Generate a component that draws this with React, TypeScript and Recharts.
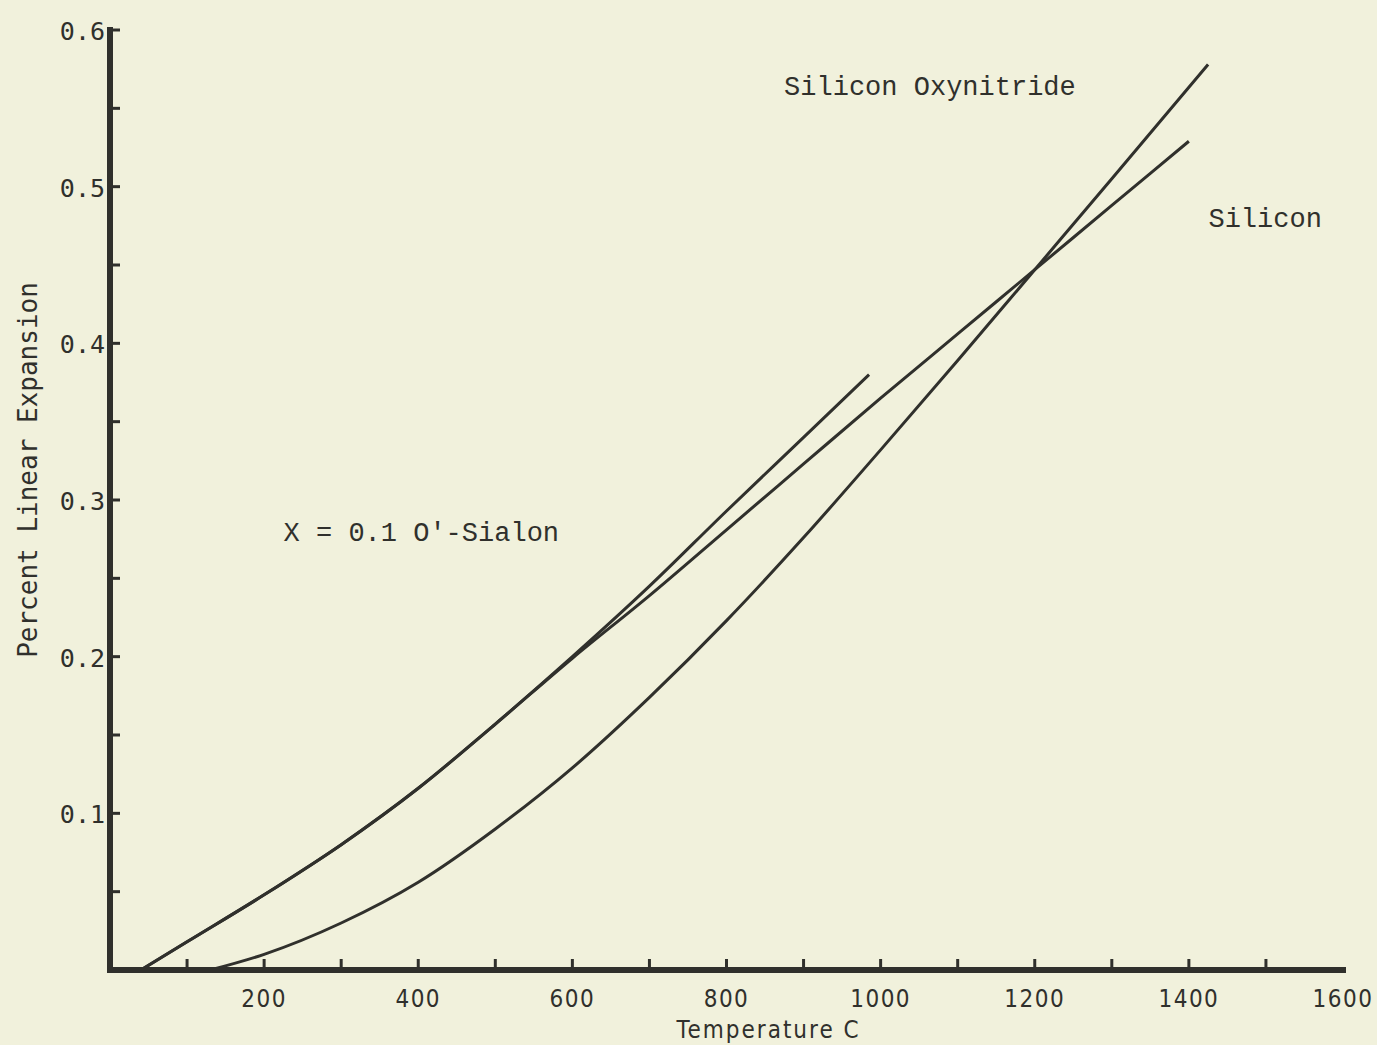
import React from 'react';
import { LineChart, Line, XAxis, YAxis, ReferenceDot } from 'recharts';

// Temperature (C) and percent linear expansion
const oxynitrideTemps = [130, 200, 300, 400, 500, 600, 700, 800, 900, 1000, 1100, 1200, 1300, 1425];
const oxynitrideValues = [0, 0.010, 0.030, 0.056, 0.090, 0.129, 0.174, 0.223, 0.276, 0.332, 0.389, 0.447, 0.505, 0.578];

const siliconTemps = [40, 100, 200, 300, 400, 500, 600, 700, 800, 900, 1000, 1100, 1200, 1300, 1400];
const siliconValues = [0, 0.018, 0.048, 0.080, 0.116, 0.157, 0.199, 0.239, 0.281, 0.323, 0.365, 0.406, 0.447, 0.488, 0.529];

const sialonTemps = [40, 100, 200, 300, 400, 500, 600, 700, 800, 900, 985];
const sialonValues = [0, 0.018, 0.048, 0.080, 0.116, 0.157, 0.200, 0.245, 0.293, 0.340, 0.380];

const xTicks = [0, 100, 200, 300, 400, 500, 600, 700, 800, 900, 1000, 1100, 1200, 1300, 1400, 1500, 1600];
const xTickLabels = ['', '', '200', '', '400', '', '600', '', '800', '', '1000', '', '1200', '', '1400', '', '1600'];
const yTicks = [0, 0.05, 0.1, 0.15, 0.2, 0.25, 0.3, 0.35, 0.4, 0.45, 0.5, 0.55, 0.6];
const yTickLabels = ['', '', '0.1', '', '0.2', '', '0.3', '', '0.4', '', '0.5', '', '0.6'];

const seriesNames = ['Silicon Oxynitride', 'Silicon', "X = 0.1 O'-Sialon"];
// label anchor positions in data coordinates [temperature, expansion]
const labelTemps = [1064, 1499, 404];
const labelValues = [0.563, 0.479, 0.278];

const toPoints = (ts: number[], vs: number[]) => ts.map((t, i) => ({ t, v: vs[i] }));
const oxynitrideData = toPoints(oxynitrideTemps, oxynitrideValues);
const siliconData = toPoints(siliconTemps, siliconValues);
const sialonData = toPoints(sialonTemps, sialonValues);

const INK = '#30302c';
const BG = '#f1f1dc';

const XTick = (props: any) => {
  const { x, y, payload } = props;
  const i = xTicks.indexOf(payload.value);
  const label = xTickLabels[i];
  const showLine = payload.value > 0 && payload.value < 1600;
  return (
    <g>
      {showLine && <line x1={x} x2={x} y1={y} y2={y - 11} stroke={INK} strokeWidth={3} />}
      {label && (
        <text
          x={x}
          y={y + 37}
          textAnchor="middle"
          fill={INK}
          style={{ fontFamily: 'DejaVu Sans', fontStretch: 'condensed', fontSize: 24, letterSpacing: 1.5 }}
        >
          {label}
        </text>
      )}
    </g>
  );
};

const YTick = (props: any) => {
  const { x, y, payload } = props;
  const i = yTicks.indexOf(payload.value);
  const label = yTickLabels[i];
  return (
    <g>
      {payload.value > 0 && <line x1={x} x2={x + 10} y1={y} y2={y} stroke={INK} strokeWidth={3} />}
      {label && (
        <text
          x={x - 5}
          y={y + 10}
          textAnchor="end"
          fill={INK}
          style={{ fontFamily: 'DejaVu Sans Mono', fontSize: 25 }}
        >
          {label}
        </text>
      )}
    </g>
  );
};

const YTitle = (props: any) => {
  const vb = props.viewBox || { x: 0, y: 0, width: 0, height: 0 };
  const cx = vb.x - 2;
  const cy = vb.y + vb.height / 2 - 30;
  return (
    <text
      transform={`translate(${cx}, ${cy}) rotate(-90)`}
      textAnchor="middle"
      dominantBaseline="central"
      fill={INK}
      style={{ fontFamily: 'DejaVu Sans Mono', fontSize: 26 }}
    >
      Percent Linear Expansion
    </text>
  );
};

const XTitle = (props: any) => {
  const vb = props.viewBox || { x: 0, y: 0, width: 0, height: 0 };
  const cx = vb.x + vb.width / 2 + 42;
  const cy = vb.y + 60;
  return (
    <text
      x={cx}
      y={cy}
      textAnchor="middle"
      dominantBaseline="central"
      fill={INK}
      style={{ fontFamily: 'DejaVu Sans', fontStretch: 'condensed', fontSize: 24, letterSpacing: 2 }}
    >
      Temperature C
    </text>
  );
};

const makeAnnotation = (text: string) => (props: any) => {
  const vb = props.viewBox || { x: 0, y: 0, width: 0, height: 0 };
  const cx = vb.x + (vb.width || 0) / 2;
  const cy = vb.y + (vb.height || 0) / 2;
  return (
    <text
      x={cx}
      y={cy}
      textAnchor="middle"
      dominantBaseline="central"
      fill={INK}
      style={{ fontFamily: 'Liberation Mono', fontSize: 27 }}
    >
      {text}
    </text>
  );
};

export default function App() {
  return (
    <div style={{ position: 'absolute', left: 0, top: 0, width: 1377, height: 1045, background: BG, overflow: 'hidden' }}>
      <LineChart width={1377} height={1045} margin={{ top: 30, right: 34, bottom: 15, left: 30 }}>
        <XAxis
          dataKey="t"
          type="number"
          domain={[0, 1600]}
          ticks={xTicks}
          interval={0}
          tickSize={0}
          tickMargin={0}
          tickLine={false}
          tick={<XTick />}
          height={60}
          axisLine={{ stroke: INK, strokeWidth: 6, strokeLinecap: 'square' }}
          allowDataOverflow
          label={{ content: <XTitle /> }}
        />
        <YAxis
          dataKey="v"
          type="number"
          domain={[0, 0.6]}
          ticks={yTicks}
          interval={0}
          tickSize={0}
          tickMargin={0}
          tickLine={false}
          tick={<YTick />}
          width={80}
          axisLine={{ stroke: INK, strokeWidth: 6, strokeLinecap: 'square' }}
          allowDataOverflow
          label={{ content: <YTitle /> }}
        />
        <Line
          data={oxynitrideData}
          dataKey="v"
          name={seriesNames[0]}
          type="monotone"
          stroke={INK}
          strokeWidth={3}
          dot={false}
          isAnimationActive={false}
        />
        <Line
          data={siliconData}
          dataKey="v"
          name={seriesNames[1]}
          type="monotone"
          stroke={INK}
          strokeWidth={3}
          dot={false}
          isAnimationActive={false}
        />
        <Line
          data={sialonData}
          dataKey="v"
          name={seriesNames[2]}
          type="monotone"
          stroke={INK}
          strokeWidth={3}
          dot={false}
          isAnimationActive={false}
        />
        {seriesNames.map((n, i) => (
          <ReferenceDot
            key={n}
            x={labelTemps[i]}
            y={labelValues[i]}
            r={0}
            fill="none"
            stroke="none"
            label={{ content: makeAnnotation(n) }}
          />
        ))}
      </LineChart>
    </div>
  );
}
